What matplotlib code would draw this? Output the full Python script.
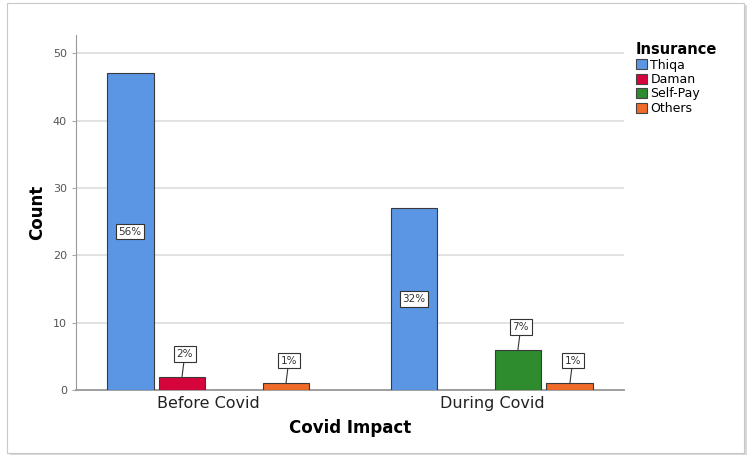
import matplotlib
matplotlib.use('Agg')
import matplotlib.pyplot as plt
from matplotlib.patches import Rectangle, Patch
import numpy as np

# data
categories = ['Before Covid', 'During Covid']
insurance = ['Thiqa', 'Daman', 'Self-Pay', 'Others']
counts = {
    'Thiqa': [47, 27],
    'Daman': [2, 0],
    'Self-Pay': [0, 6],
    'Others': [1, 1],
}
colors = ['#5a96e3', '#d5043a', '#2e8b2e', '#f06a2a']

plt.rcParams['font.family'] = ['DejaVu Sans']

fig = plt.figure(figsize=(7.5, 4.61), dpi=100)
fig.patch.set_facecolor('white')

# framed panel with a faint shadow
fig.patches.append(Rectangle((0.013, 0.012), 0.983, 0.978, transform=fig.transFigure,
                             facecolor='#d8d8d8', edgecolor='none', zorder=-2))
fig.patches.append(Rectangle((0.009, 0.018), 0.983, 0.975, transform=fig.transFigure,
                             facecolor='white', edgecolor='#c8c8c8', lw=0.8, zorder=-1))

ax = fig.add_axes([76/750, 1 - 390/461, 548/750, (390 - 35)/461])
ax.set_facecolor('none')
ax.set_zorder(2)

total = sum(sum(v) for v in counts.values())
x = np.arange(len(categories))
step = 0.183
width = 0.165
for i, name in enumerate(insurance):
    xs = x + (i - 1.5) * step
    vals = counts[name]
    ax.bar(xs, vals, width, color=colors[i], edgecolor='#3a3a3a', linewidth=0.8, zorder=3)
    for xx, v in zip(xs, vals):
        if v == 0:
            continue
        pct = f'{round(100 * v / total)}%'
        box = dict(boxstyle='square,pad=0.25', facecolor='white', edgecolor='#333333', lw=0.8)
        if v > 10:
            ax.text(xx, v / 2, pct, ha='center', va='center', fontsize=7.5,
                    color='#333333', bbox=box, zorder=5)
        else:
            ax.annotate(pct, xy=(xx, v), xytext=(xx + 0.01, v + 2.6), ha='center', va='bottom',
                        fontsize=7.5, color='#333333', bbox=box, zorder=5,
                        arrowprops=dict(arrowstyle='-', color='#333333', lw=0.8,
                                        shrinkA=0, shrinkB=0))

ax.set_xlim(-0.465, 1.465)
ax.set_ylim(0, 52.7)
ax.set_yticks([0, 10, 20, 30, 40, 50])
ax.set_xticks(x)
ax.set_xticklabels(categories, fontsize=11.5, color='#222222')
ax.tick_params(axis='x', length=0, pad=4)
ax.tick_params(axis='y', length=3, color='#aaaaaa', labelsize=8, labelcolor='#555555')
ax.yaxis.grid(True, color='#dadada', lw=1.1, zorder=0)
ax.set_axisbelow(True)
for s in ['top', 'right']:
    ax.spines[s].set_visible(False)
ax.spines['left'].set_color('#999999')
ax.spines['bottom'].set_color('#999999')
ax.spines['bottom'].set_linewidth(1.3)

ax.set_ylabel('Count', fontsize=12, fontweight='bold', labelpad=5)
ax.set_xlabel('Covid Impact', fontsize=12, fontweight='bold', labelpad=6)

handles = [Patch(facecolor=c, edgecolor='#444444', lw=0.8) for c in colors]
leg = fig.legend(handles, insurance, loc='upper left', bbox_to_anchor=(631/750, 1 - 37/461),
                 title='Insurance', frameon=False, fontsize=9, title_fontsize=10.5,
                 handlelength=0.85, handleheight=0.85, handletextpad=0.3, labelspacing=0.12,
                 alignment='left', borderaxespad=0)
leg.get_title().set_fontweight('bold')
leg.set_zorder(3)

fig.savefig('out.png', dpi=100)
